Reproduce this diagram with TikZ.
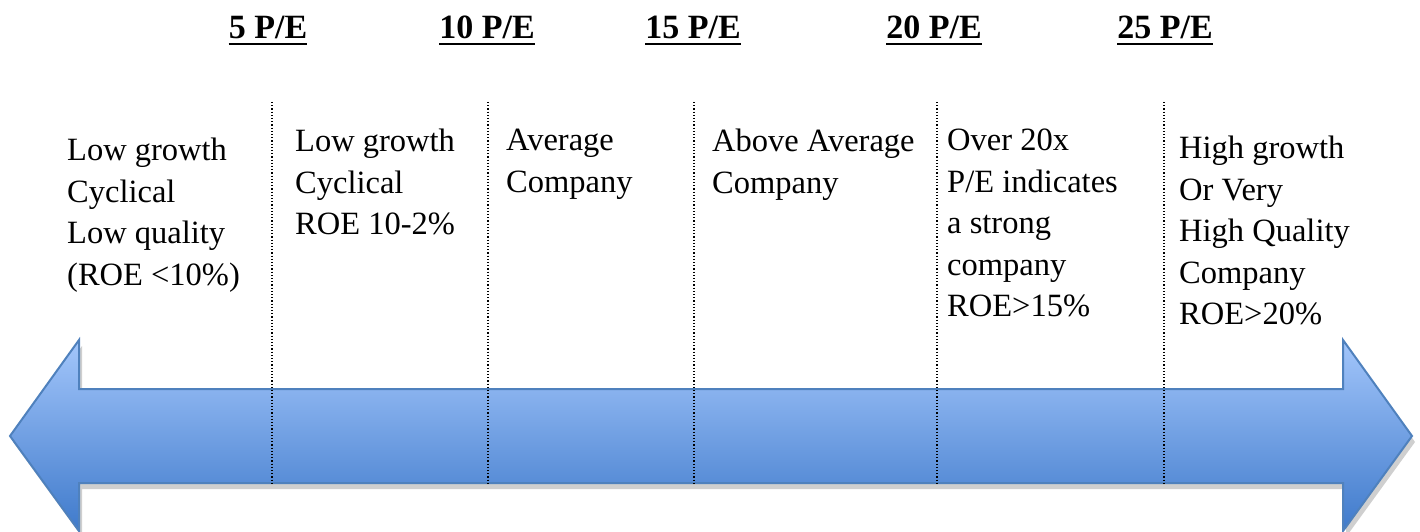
\documentclass[tikz,border=0pt]{standalone}
\usepackage{fontspec}
\setmainfont{Liberation Serif}
\definecolor{arrowtop}{HTML}{A3C6FB}
\definecolor{arrowbot}{HTML}{3F7ACB}
\definecolor{arrowedge}{HTML}{4F81BD}
\definecolor{shadowgray}{HTML}{CFCFCF}
\tikzset{
  heading/.style={font=\fontsize{34}{40}\selectfont\bfseries, inner sep=0pt, anchor=base},
  uline/.style={line width=2pt},
  body/.style={font=\fontsize{32.5}{41.5}\selectfont, inner sep=0pt, anchor=north west, align=left},
  divider/.style={line width=2pt, dash pattern=on 1.2pt off 2pt},
  bigarrow/.style={draw=arrowedge, line width=2pt, top color=arrowtop, bottom color=arrowbot, line join=miter}
}
\begin{document}
\begin{tikzpicture}[x=1pt,y=1pt]
\useasboundingbox (0,0) rectangle (1420,531);
% shadow
\fill[shadowgray, shift={(3,-6)}] (10,95) -- (79,191) -- (79,142) -- (1343,142) -- (1343,191) -- (1412,95) -- (1343,0) -- (1343,48) -- (79,48) -- (79,0) -- cycle;
% arrow
\path[bigarrow] (10,95) -- (79,191) -- (79,142) -- (1343,142) -- (1343,191) -- (1412,95) -- (1343,0) -- (1343,48) -- (79,48) -- (79,0) -- cycle;
% dividers
\foreach \i/\x in {1/272,2/488,3/694,4/937,5/1164}{
  \coordinate (t\i) at (\x,429);
  \coordinate (b\i) at (\x,48);
  \draw[divider] (t\i) -- (b\i);
}
% headings
\foreach \i/\x/\t in {1/268/5,2/487/10,3/693/15,4/934/20,5/1165/25}{
  \node[heading] (h\i) at (\x,492) {\t{} P/E};
  \draw[uline] ([yshift=-5pt]h\i.base west) -- ([yshift=-5pt]h\i.base east);
}
% texts
\node[body] (c1) at (67,393) {Low growth\\Cyclical\\Low quality\\(ROE <10\%)};
\node[body] (c2) at (295,402) {Low growth\\Cyclical\\ROE 10-2\%};
\node[body] (c3) at (506,402) {Average\\Company};
\node[body] (c4) at (712,402) {Above Average\\Company};
\node[body] (c5) at (947,402) {Over 20x\\P/E indicates\\a strong\\company\\ROE>15\%};
\node[body] (c6) at (1179,395) {High growth\\Or Very\\High Quality\\Company\\ROE>20\%};
\end{tikzpicture}
\end{document}
